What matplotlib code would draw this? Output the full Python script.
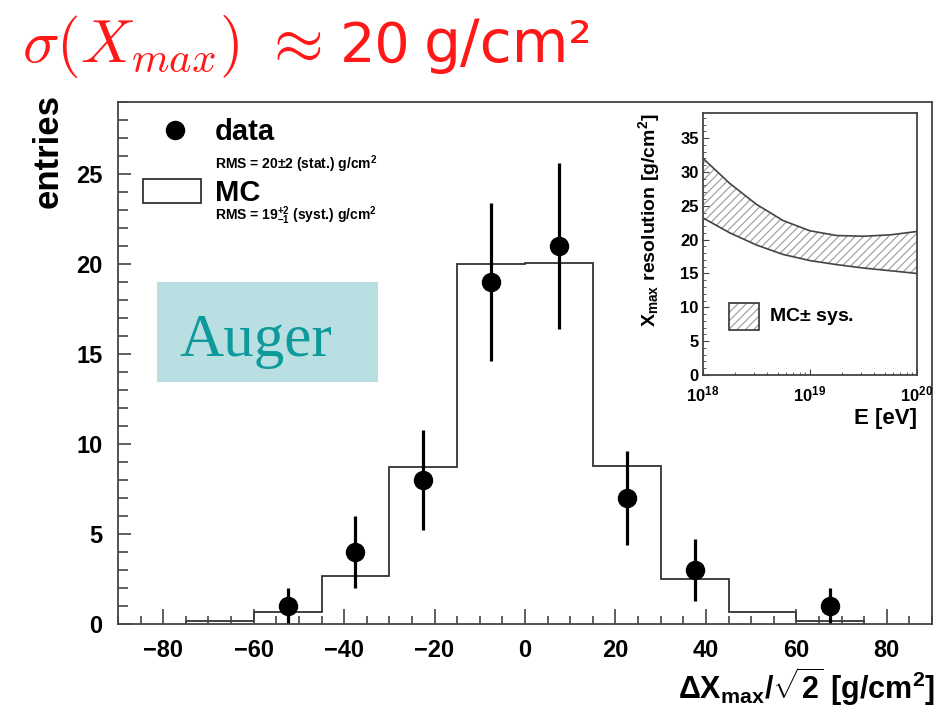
import matplotlib
matplotlib.use("Agg")
import matplotlib.pyplot as plt
from matplotlib.patches import Rectangle
from matplotlib.ticker import MultipleLocator, LogLocator, NullFormatter
import numpy as np

plt.rcParams['font.family'] = ['Liberation Sans', 'DejaVu Sans']
plt.rcParams['font.weight'] = 'bold'
plt.rcParams['mathtext.fontset'] = 'custom'
plt.rcParams['mathtext.rm'] = 'Liberation Sans:bold'
plt.rcParams['mathtext.it'] = 'Liberation Sans:bold'
plt.rcParams['mathtext.bf'] = 'Liberation Sans:bold'
plt.rcParams['mathtext.sf'] = 'Liberation Sans:bold'
plt.rcParams['hatch.linewidth'] = 0.8

# histogram of Xmax differences
bin_edges = [-75, -60, -45, -30, -15, 0, 15, 30, 45, 60, 75]
mc_counts = [0.15, 0.65, 2.65, 8.7, 20.0, 20.05, 8.8, 2.5, 0.65, 0.15]

data_x = [-52.5, -37.5, -22.5, -7.5, 7.5, 22.5, 37.5, 67.5]
data_y = [1, 4, 8, 19, 21, 7, 3, 1]
data_err = [1.0, 2.0, 2.8, 4.4, 4.6, 2.6, 1.7, 1.0]

# resolution band vs energy (inset)
log_e = [18.0, 18.25, 18.5, 18.75, 19.0, 19.25, 19.5, 19.75, 20.0]
res_upper = [32.0, 28.3, 25.2, 22.8, 21.3, 20.6, 20.5, 20.7, 21.2]
res_lower = [23.2, 21.0, 19.2, 17.8, 16.9, 16.3, 15.8, 15.4, 15.0]

frame = '#444444'
hatch_col = '#999999'
red = '#ff1818'

fig = plt.figure(figsize=(9.51, 7.11), dpi=100)
ax = fig.add_axes([118/951, 1 - 624/711, 814/951, 522/711])

ax.stairs(mc_counts, bin_edges, baseline=0, color='#333333', lw=1.3)
ax.errorbar(data_x, data_y, yerr=data_err, fmt='o', color='black',
            ms=13, elinewidth=2.3, capsize=0)

ax.set_xlim(-90, 90)
ax.set_ylim(0, 29)
ax.xaxis.set_major_locator(MultipleLocator(20))
ax.xaxis.set_minor_locator(MultipleLocator(5))
ax.yaxis.set_major_locator(MultipleLocator(5))
ax.yaxis.set_minor_locator(MultipleLocator(1))
ax.tick_params(which='both', direction='in', colors=frame, labelcolor='black',
               labelsize=17, pad=11)
ax.tick_params(axis='x', which='major', length=11, width=1.2)
ax.tick_params(axis='x', which='minor', length=5.5, width=1.2)
ax.tick_params(axis='y', which='major', length=9, width=1.2)
ax.tick_params(axis='y', which='minor', length=7, width=1.2)
for s in ax.spines.values():
    s.set_color(frame)
    s.set_linewidth(1.3)
ax.set_xticks([-80, -60, -40, -20, 0, 20, 40, 60, 80])
ax.set_xticklabels(['\u221280', '\u221260', '\u221240', '\u221220', '0',
                    '20', '40', '60', '80'])

ax.set_ylabel('entries', fontsize=25, fontweight='bold', loc='top')
ax.yaxis.set_label_coords(-0.065, 1.015)
ax.set_xlabel(r'$\Delta$X$_{\mathrm{max}}$/$\sqrt{2}$ [g/cm$^{2}$]',
              fontsize=22, fontweight='bold', loc='right')
ax.xaxis.set_label_coords(1.004, -0.078)

# legend block
ax.plot([-77.4], [27.45], 'o', color='black', ms=13)
ax.text(-68.5, 27.35, 'data', fontsize=21, fontweight='bold', va='center')
ax.text(-68.5, 25.55, r'RMS = 20$\pm$2 (stat.) g/cm$^{2}$', fontsize=10,
        fontweight='bold', va='center')
ax.add_patch(Rectangle((-84.5, 23.4), 12.8, 1.3, facecolor='white',
                       edgecolor='#333333', lw=1.3))
ax.text(-68.5, 23.95, 'MC', fontsize=21, fontweight='bold', va='center')
ax.text(-68.5, 22.7, r'RMS = 19$^{+2}_{-1}$ (syst.) g/cm$^{2}$', fontsize=10,
        fontweight='bold', va='center')

# red headline
fig.text(22/951, 1 - 62/711, r'$\sigma(X_{max})$', color=red,
         fontsize=44, math_fontfamily='cm', va='baseline')
fig.text(262/951, 1 - 62/711, r'$\approx$', color=red,
         fontsize=46, math_fontfamily='cm', va='baseline')
fig.text(340/951, 1 - 62/711, '20', color=red,
         family=['DejaVu Sans'], fontweight='normal', fontsize=40,
         va='baseline')
fig.text(424/951, 1 - 62/711, 'g/cm\u00b2', color=red,
         family=['DejaVu Sans'], fontweight='normal', fontsize=42,
         va='baseline')

# Auger label box
fig.patches.append(Rectangle((157/951, 1 - 382/711), 221/951, 100/711,
                             transform=fig.transFigure, facecolor='#b9dfe2',
                             edgecolor='none', zorder=5))
fig.text(179/951, 1 - 356/711, 'Auger', family=['Liberation Serif'],
         fontweight='normal', fontsize=44, color='#0e9a9a', va='baseline',
         zorder=6)

# inset: resolution vs energy
ins = fig.add_axes([703/951, 1 - 375/711, 214/951, 262/711])
energy = [10 ** v for v in log_e]
ins.fill_between(energy, res_lower, res_upper, facecolor='none',
                 hatch='////', edgecolor=hatch_col, linewidth=0)
ins.plot(energy, res_upper, color='#444444', lw=1.2)
ins.plot(energy, res_lower, color='#444444', lw=1.2)
ins.set_xscale('log')
ins.set_xlim(1e18, 1e20)
ins.set_ylim(0, 38.7)
ins.xaxis.set_major_locator(LogLocator(base=10, numticks=5))
ins.xaxis.set_minor_locator(LogLocator(base=10, subs=np.arange(2, 10), numticks=10))
ins.xaxis.set_minor_formatter(NullFormatter())
ins.yaxis.set_major_locator(MultipleLocator(5))
ins.yaxis.set_minor_locator(MultipleLocator(1))
ins.tick_params(which='both', direction='in', colors=frame, labelcolor='black',
                labelsize=12)
ins.tick_params(axis='y', which='major', length=4, pad=3)
ins.tick_params(axis='y', which='minor', length=2)
ins.tick_params(axis='x', which='major', length=4, pad=7)
ins.tick_params(axis='x', which='minor', length=2)
for s in ins.spines.values():
    s.set_color(frame)
    s.set_linewidth(1.3)
ins.set_ylabel(r'X$_{\mathrm{max}}$ resolution [g/cm$^{2}$]', fontsize=14,
               fontweight='bold', loc='top')
ins.yaxis.set_label_coords(-0.19, 1.0)
ins.set_xlabel('E [eV]', fontsize=16, fontweight='bold', loc='right')
ins.xaxis.set_label_coords(1.0, -0.125)

ins.add_patch(Rectangle((0.12, 0.17), 0.14, 0.105, transform=ins.transAxes,
                        facecolor='none', hatch='////', edgecolor=hatch_col,
                        lw=0))
ins.add_patch(Rectangle((0.12, 0.17), 0.14, 0.105, transform=ins.transAxes,
                        facecolor='none', edgecolor='#333333', lw=1.2))
ins.text(0.31, 0.222, r'MC$\pm$ sys.', transform=ins.transAxes, fontsize=14,
         fontweight='bold', va='center')

fig.savefig('out.png', dpi=100)
